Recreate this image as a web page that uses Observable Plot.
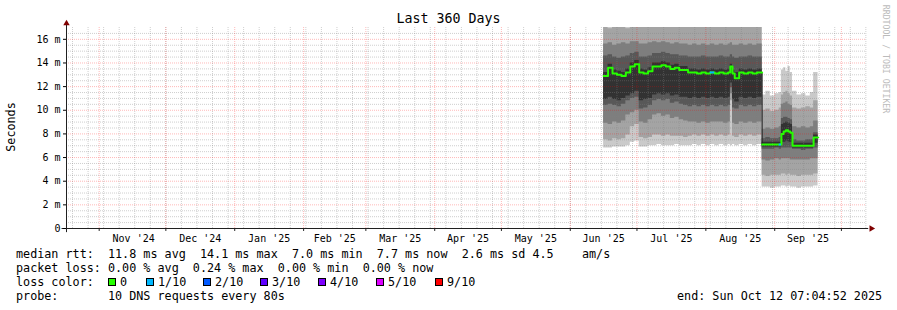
<!DOCTYPE html>
<html><head><meta charset="utf-8">
<script src="https://cdn.jsdelivr.net/npm/d3@7"></script>
<script src="https://cdn.jsdelivr.net/npm/@observablehq/plot@0.6"></script>
<style>
body{margin:0;background:#fff;}
#wrap{position:relative;width:897px;height:310px;overflow:hidden;font-family:"DejaVu Sans Mono",monospace;color:#000;background:#fff;}
#wrap svg{position:absolute;left:0;top:0;}
.t{position:absolute;white-space:pre;font-size:11.75px;line-height:14px;}
.box{position:absolute;width:8px;height:8px;border:1px solid #000;box-sizing:border-box;}
</style></head><body><div id="wrap"></div>
<script>
// ---- time range ----
const rangeStart = "2024-10-17T07:04:52Z";
const rangeEnd = "2025-10-12T07:04:52Z";
const breakDate = "2025-08-26T08:00Z";

// ---- samples (ms) ----
const dates = [
 "2025-06-16","2025-06-18","2025-06-20","2025-06-22","2025-06-24","2025-06-26","2025-06-28","2025-06-30",
 "2025-07-02","2025-07-04","2025-07-06","2025-07-08","2025-07-10","2025-07-12","2025-07-14","2025-07-16","2025-07-18","2025-07-20","2025-07-22","2025-07-24","2025-07-26","2025-07-28","2025-07-30",
 "2025-08-01","2025-08-03","2025-08-05","2025-08-07","2025-08-09","2025-08-11","2025-08-12","2025-08-13","2025-08-14","2025-08-16","2025-08-18","2025-08-20","2025-08-22","2025-08-24",
 "2025-08-26T08:00Z","2025-08-28","2025-08-30","2025-09-01","2025-09-03","2025-09-04","2025-09-05","2025-09-06","2025-09-07","2025-09-08","2025-09-09","2025-09-11","2025-09-13","2025-09-15","2025-09-17","2025-09-18T12:00Z","2025-09-20T12:00Z"
];
const median = [12.9,13.6,13.1,13.0,12.9,13.2,13.7,13.9, 13.2,13.1,13.3,13.7,13.7,13.8,13.7,13.5,13.6,13.4,13.4,13.2,13.2,13.1,13.2, 13.1,13.2,13.1,13.2,13.1,13.2,13.7,13.1,12.7,13.2,13.1,13.2,13.1,13.2,
 7.1,7.1,7.1,7.1,7.1,8.0,8.2,8.3,8.2,8.1,7.0,7.0,7.0,7.0,7.0,7.7,7.7];
const loss = [0,0,0,0,0,0,0,0, 0,0,0,0,0,0,0,0,0,0,0,0,0,0,0, 0,1,0,0,0,0,0,0,0,0,0,0,0,0,
 0,0,0,0,1,0,0,0,0,0,0,0,0,0,0,0,0];
const p1 = [6.8,6.8,6.9,6.9,6.9,7.0,7.3,7.4, 6.9,6.9,7.0,7.0,7.1,7.0,7.0,7.0,7.1,7.0,7.0,7.0,7.1,7.0,7.1, 7.0,7.1,7.0,7.1,7.0,7.1,7.0,7.1,7.0,7.1,7.0,7.1,7.0,7.1,
 3.5,3.5,3.4,3.5,3.5,3.6,3.6,3.5,3.6,3.5,3.5,3.4,3.5,3.5,3.5,3.6,3.6];
const p2 = [7.5,7.4,7.6,7.5,7.6,7.9,8.6,8.8, 7.7,7.6,7.7,7.9,7.9,7.8,7.9,7.8,7.8,7.8,7.7,7.8,7.9,7.8,7.9, 7.8,7.9,7.8,7.9,7.8,7.9,10.8,7.8,7.7,7.9,7.8,7.9,7.8,7.9,
 4.5,4.4,4.5,4.5,4.5,4.6,4.6,4.5,4.6,4.5,4.5,4.4,4.5,4.5,4.5,4.6,4.6];
const p3 = [8.9,8.8,9.0,8.9,9.1,9.6,9.8,10.0, 9.0,8.9,9.2,9.6,9.7,9.5,9.6,9.3,9.4,9.2,9.1,9.0,9.0,8.9,9.0, 8.9,9.0,9.0,9.0,8.9,9.0,11.4,8.9,8.8,9.0,8.9,9.0,8.9,9.0,
 5.8,5.7,5.8,5.9,5.8,5.9,5.9,5.9,5.9,5.8,5.8,5.8,5.8,5.8,5.9,5.9,5.9];
const p4 = [10.4,10.5,10.4,10.3,10.5,10.8,11.0,11.1, 10.1,10.2,10.4,10.8,10.9,10.8,10.9,10.6,10.7,10.5,10.4,10.3,10.4,10.3,10.4, 10.3,10.4,10.3,10.4,10.3,10.4,11.9,10.2,10.1,10.4,10.3,10.4,10.3,10.4,
 6.7,6.7,6.7,6.8,6.7,6.8,6.8,6.8,6.8,6.8,6.7,6.7,6.6,6.7,6.7,6.8,6.8];
const p5 = [10.9,11.1,10.9,10.8,11.0,11.2,11.4,11.6, 10.8,10.9,11.0,11.3,11.4,11.3,11.4,11.2,11.3,11.1,11.1,11.0,11.1,11.0,11.1, 11.0,11.1,11.0,11.1,11.0,11.1,12.3,10.9,10.7,11.1,11.0,11.1,11.0,11.1,
 6.9,6.9,6.9,6.9,6.9,7.3,7.3,7.4,7.3,7.3,6.8,6.8,6.8,6.8,6.8,7.2,7.2];
const p6 = [13.2,13.9,13.4,13.3,13.2,13.5,14.0,14.2, 13.5,13.4,13.6,14.0,14.0,14.1,14.0,13.8,13.9,13.7,13.7,13.5,13.5,13.4,13.5, 13.4,13.5,13.4,13.5,13.4,13.5,13.9,13.4,13.2,13.5,13.4,13.5,13.4,13.5,
 7.3,7.3,7.3,7.3,7.3,8.8,8.9,9.0,8.9,8.8,7.2,7.2,7.2,7.2,7.2,7.9,7.9];
const p7 = [14.6,14.7,14.5,14.4,14.5,14.6,14.8,14.9, 14.5,14.5,14.6,14.8,14.8,14.9,14.8,14.7,14.7,14.6,14.6,14.5,14.5,14.5,14.6, 14.5,14.5,14.5,14.6,14.5,14.5,14.7,14.5,14.4,14.5,14.5,14.6,14.5,14.5,
 7.6,7.7,7.6,7.6,7.7,9.3,9.4,9.4,9.3,9.2,7.5,7.4,7.4,7.5,7.5,8.1,8.1];
const p8 = [15.6,15.7,15.5,15.6,15.7,15.6,15.8,15.8, 15.6,15.6,15.7,15.8,15.7,15.8,15.7,15.6,15.7,15.6,15.6,15.5,15.6,15.5,15.6, 15.5,15.6,15.5,15.6,15.5,15.6,15.7,15.5,15.5,15.6,15.5,15.6,15.5,15.6,
 8.4,8.5,8.4,8.5,8.6,10.5,10.6,10.7,10.5,10.4,8.6,8.5,8.6,8.5,8.6,9.1,9.1];
const p9 = [17.1,16.9,17.2,17.0,17.1,16.9,17.2,17.1, 17.0,17.1,17.0,17.2,17.0,17.1,17.2,17.0,17.1,17.0,17.1,17.0,17.1,17.0,17.1, 17.0,17.0,17.1,17.0,17.1,17.0,17.2,17.0,17.0,17.1,17.0,17.1,17.0,17.1,
 10.0,10.1,9.9,10.0,10.2,11.3,11.5,11.6,11.4,11.2,10.2,10.1,10.2,10.3,10.2,10.8,10.8];
const p10 = [18,18,18,18,18,18,18,18, 18,18,18,18,18,18,18,18,18,18,18,18,18,18,18, 18,18,18,18,18,18,18,18,18,18,18,18,18,18,
 11.3,11.6,11.2,11.4,11.5,13.4,13.6,13.3,13.7,13.2,11.6,11.3,11.4,11.2,11.5,13.2,13.2];

// ---- axes ----
const yTicks = [0,2,4,6,8,10,12,14,16];
const yTickLabels = ["0","2 m","4 m","6 m","8 m","10 m","12 m","14 m","16 m"];
const monthLabelDates = ["2024-11-16T12:00Z","2024-12-16T12:00Z","2025-01-16T12:00Z","2025-02-15T00:00Z","2025-03-16T12:00Z","2025-04-16T00:00Z","2025-05-16T12:00Z","2025-06-16T00:00Z","2025-07-16T12:00Z","2025-08-16T12:00Z","2025-09-16T00:00Z"];
const monthLabels = ["Nov '24","Dec '24","Jan '25","Feb '25","Mar '25","Apr '25","May '25","Jun '25","Jul '25","Aug '25","Sep '25"];

const shades = ["#cacaca","#a4a4a4","#7e7e7e","#585858","#323232"];
const lossColors = ["#26ff00","#00b8ff"];

const t0 = new Date(rangeStart), t1 = new Date(rangeEnd), tb = new Date(breakDate);
const P = [p1,p2,p3,p4,p5,p6,p7,p8,p9,p10];
const rows = dates.map((s,i)=>({date:new Date(s), median:median[i], loss:loss[i], p:P.map(a=>a[i])}));
rows.forEach((r,i)=>{ r.next = i < rows.length-1 ? rows[i+1].date : r.date; });
const segA = rows.filter(d=>d.date < tb); segA.push({date:tb, median:segA[segA.length-1].median});
const segB = rows.filter(d=>d.date >= tb);
const lossRows = rows.filter(d=>d.loss>0);

const DAY = 864e5;
const weeks = d3.utcSunday.range(t0, t1);
const months = d3.utcMonth.range(t0, t1);
const minorY = d3.range(0.5, 17, 0.5).filter(v => v % 2 !== 0);
const labelMap = new Map(monthLabelDates.map((s,i)=>[+new Date(s), monthLabels[i]]));
const yLabelMap = new Map(yTicks.map((v,i)=>[v, yTickLabels[i]]));

const marks = [];
for (let k=0;k<5;k++){
  marks.push(Plot.areaY(rows, {x:"date", y1:d=>d.p[k], y2:d=>d.p[9-k], fill:shades[k], curve:"step-after", clip:true}));
}
marks.push(
  Plot.ruleX(weeks, {stroke:"#808080", strokeOpacity:0.38, strokeDasharray:"1,1"}),
  Plot.ruleY(minorY, {stroke:"#808080", strokeOpacity:0.38, strokeDasharray:"1,1"}),
  Plot.ruleX(months, {stroke:"#ff0000", strokeOpacity:0.28, strokeDasharray:"1,1"}),
  Plot.ruleY(yTicks.filter(v=>v>0), {stroke:"#ff0000", strokeOpacity:0.28, strokeDasharray:"1,1"}),
  Plot.line(rows, {x:"date", y:"median", curve:"step-after", stroke:"#202020", strokeWidth:1}),
  Plot.line(segA, {x:"date", y:"median", curve:"step-after", stroke:lossColors[0], strokeWidth:2}),
  Plot.line(segB, {x:"date", y:"median", curve:"step-after", stroke:lossColors[0], strokeWidth:2}),
  Plot.ruleY(lossRows, {y:"median", x1:"date", x2:"next", stroke:d=>lossColors[d.loss], strokeWidth:2}),
  Plot.ruleX(months, {y1:0, y2:-0.25, stroke:"#202020"}),
  Plot.ruleY([0], {x1:()=>new Date(+t0 - 2*DAY), x2:()=>new Date(+t1 + 1*DAY), stroke:"#202020"}),
  Plot.ruleX([t0], {y1:-0.35, y2:17.2, stroke:"#202020"}),
  Plot.dot([0], {x:()=>t0, y:()=>17.35, symbol:"triangle", r:2.4, fill:"#800000"}),
  Plot.dot([0], {x:()=>new Date(+t1 + 2.2*DAY), y:()=>0, symbol:"triangle", rotate:90, r:2.4, fill:"#800000"}),
  Plot.axisY({ticks:yTicks, tickFormat:d=>yLabelMap.get(d), tickSize:3, tickPadding:3, label:null, fontSize:10}),
  Plot.axisX({ticks:monthLabelDates.map(s=>new Date(s)), tickFormat:d=>labelMap.get(+d), tickSize:0, tickPadding:6, label:null, fontSize:10})
);

const chart = Plot.plot({
  width:897, height:310,
  marginLeft:66, marginRight:31, marginTop:27, marginBottom:82,
  x:{type:"utc", domain:[t0,t1]},
  y:{domain:[0,17]},
  style:{fontFamily:"DejaVu Sans Mono", fontSize:"10px", background:"transparent", overflow:"visible"},
  marks
});
const wrap = document.getElementById("wrap");
wrap.appendChild(chart);

function addText(txt, css){ const d=document.createElement("div"); d.className="t"; d.textContent=txt; Object.assign(d.style, css); wrap.appendChild(d); return d; }
addText("Last 360 Days", {left:"0px", top:"11px", width:"897px", textAlign:"center", fontSize:"13.3px", lineHeight:"16px"});
addText("Seconds", {left:"11px", top:"127px", transform:"translate(-50%,-50%) rotate(-90deg)"});
addText("RRDTOOL / TOBI OETIKER", {left:"886px", top:"59px", fontSize:"8.2px", lineHeight:"10px", color:"#bbbbbb", transform:"translate(-50%,-50%) rotate(90deg)"});

const legendRows = [
  "median rtt:  11.8 ms avg  14.1 ms max  7.0 ms min  7.7 ms now  2.6 ms sd 4.5    am/s",
  "packet loss: 0.00 % avg  0.24 % max  0.00 % min  0.00 % now",
  "loss color:",
  "probe:       10 DNS requests every 80s"
];
const rowTops = [247, 261, 275, 289];
legendRows.forEach((s,i)=>addText(s, {left:"16px", top:rowTops[i]+"px"}));
addText("end: Sun Oct 12 07:04:52 2025", {left:"677px", top:"289px"});

const lossLabels = ["0","1/10","2/10","3/10","4/10","5/10","9/10"];
const lossSwatch = ["#26ff00","#00b8ff","#0059ff","#5e00ff","#7e00ff","#dd00ff","#ff0000"];
const swatchX = [108,146,203,260,318,376,435];
lossLabels.forEach((l,i)=>{
  const b=document.createElement("div"); b.className="box";
  Object.assign(b.style,{left:swatchX[i]+"px", top:"278px", background:lossSwatch[i]});
  wrap.appendChild(b);
  addText(l, {left:(swatchX[i]+12)+"px", top:"275px"});
});
</script></body></html>
